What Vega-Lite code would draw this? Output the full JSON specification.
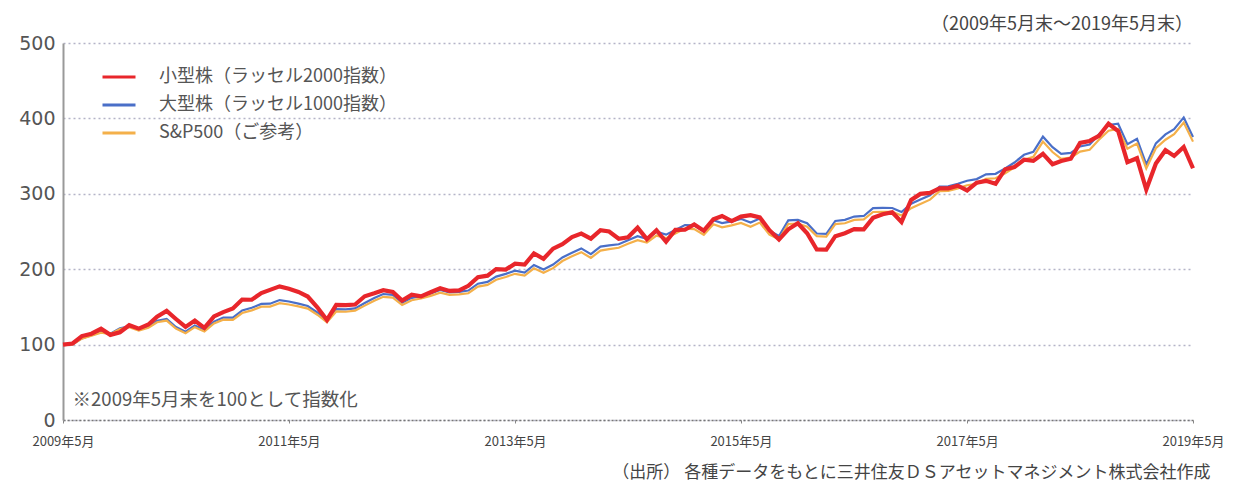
{
  "$schema": "https://vega.github.io/schema/vega-lite/v6.json",
  "width": 1130,
  "height": 377,
  "autosize": {"type": "none"},
  "padding": {"left": 63, "top": 43, "right": 46, "bottom": 66},
  "background": "white",
  "config": {"view": {"stroke": null}, "font": "Noto Sans CJK JP"},
  "title": {"text": "（2009年5月末～2019年5月末）", "anchor": "end", "frame": "group", "orient": "top", "fontSize": 18, "fontWeight": "normal", "color": "#444", "font": "Noto Sans CJK JP", "offset": 0},
  "data": {
    "values": [
      {"d": "2009-05", "r2000": 100, "r1000": 100, "sp500": 100},
      {"d": "2009-06", "r2000": 101.5, "r1000": 100.3, "sp500": 100.2},
      {"d": "2009-07", "r2000": 111.3, "r1000": 108.3, "sp500": 107.9},
      {"d": "2009-08", "r2000": 114.5, "r1000": 112.3, "sp500": 111.7},
      {"d": "2009-09", "r2000": 121.0, "r1000": 116.7, "sp500": 115.9},
      {"d": "2009-10", "r2000": 112.9, "r1000": 114.6, "sp500": 113.8},
      {"d": "2009-11", "r2000": 116.4, "r1000": 121.6, "sp500": 120.6},
      {"d": "2009-12", "r2000": 125.7, "r1000": 124.3, "sp500": 123.0},
      {"d": "2010-01", "r2000": 121.2, "r1000": 120.1, "sp500": 118.7},
      {"d": "2010-02", "r2000": 126.7, "r1000": 123.9, "sp500": 122.3},
      {"d": "2010-03", "r2000": 136.9, "r1000": 131.6, "sp500": 129.7},
      {"d": "2010-04", "r2000": 144.7, "r1000": 134.1, "sp500": 131.9},
      {"d": "2010-05", "r2000": 134.0, "r1000": 123.4, "sp500": 121.3},
      {"d": "2010-06", "r2000": 123.4, "r1000": 117.0, "sp500": 115.0},
      {"d": "2010-07", "r2000": 131.9, "r1000": 125.3, "sp500": 123.1},
      {"d": "2010-08", "r2000": 122.2, "r1000": 119.7, "sp500": 117.5},
      {"d": "2010-09", "r2000": 137.4, "r1000": 130.5, "sp500": 128.0},
      {"d": "2010-10", "r2000": 143.1, "r1000": 135.8, "sp500": 133.0},
      {"d": "2010-11", "r2000": 148.0, "r1000": 135.9, "sp500": 132.9},
      {"d": "2010-12", "r2000": 159.8, "r1000": 145.3, "sp500": 141.9},
      {"d": "2011-01", "r2000": 159.5, "r1000": 148.8, "sp500": 145.4},
      {"d": "2011-02", "r2000": 168.3, "r1000": 153.9, "sp500": 150.3},
      {"d": "2011-03", "r2000": 172.6, "r1000": 154.3, "sp500": 150.4},
      {"d": "2011-04", "r2000": 177.2, "r1000": 159.1, "sp500": 155.0},
      {"d": "2011-05", "r2000": 174.0, "r1000": 157.2, "sp500": 153.2},
      {"d": "2011-06", "r2000": 169.9, "r1000": 154.4, "sp500": 150.6},
      {"d": "2011-07", "r2000": 163.8, "r1000": 151.2, "sp500": 147.7},
      {"d": "2011-08", "r2000": 149.5, "r1000": 142.6, "sp500": 139.6},
      {"d": "2011-09", "r2000": 132.7, "r1000": 132.2, "sp500": 129.8},
      {"d": "2011-10", "r2000": 152.8, "r1000": 147.1, "sp500": 144.0},
      {"d": "2011-11", "r2000": 152.3, "r1000": 146.7, "sp500": 143.6},
      {"d": "2011-12", "r2000": 153.2, "r1000": 148.0, "sp500": 145.1},
      {"d": "2012-01", "r2000": 164.1, "r1000": 155.2, "sp500": 151.7},
      {"d": "2012-02", "r2000": 168.0, "r1000": 161.7, "sp500": 158.1},
      {"d": "2012-03", "r2000": 172.2, "r1000": 167.1, "sp500": 163.4},
      {"d": "2012-04", "r2000": 169.7, "r1000": 166.0, "sp500": 162.4},
      {"d": "2012-05", "r2000": 158.4, "r1000": 155.7, "sp500": 152.5},
      {"d": "2012-06", "r2000": 166.2, "r1000": 162.0, "sp500": 158.9},
      {"d": "2012-07", "r2000": 164.0, "r1000": 164.1, "sp500": 161.1},
      {"d": "2012-08", "r2000": 169.4, "r1000": 167.9, "sp500": 164.6},
      {"d": "2012-09", "r2000": 174.9, "r1000": 172.4, "sp500": 168.9},
      {"d": "2012-10", "r2000": 171.2, "r1000": 169.2, "sp500": 165.9},
      {"d": "2012-11", "r2000": 172.0, "r1000": 170.0, "sp500": 166.6},
      {"d": "2012-12", "r2000": 178.0, "r1000": 171.7, "sp500": 168.1},
      {"d": "2013-01", "r2000": 189.3, "r1000": 180.8, "sp500": 176.9},
      {"d": "2013-02", "r2000": 191.4, "r1000": 183.2, "sp500": 179.2},
      {"d": "2013-03", "r2000": 200.1, "r1000": 190.2, "sp500": 186.0},
      {"d": "2013-04", "r2000": 199.5, "r1000": 193.8, "sp500": 189.7},
      {"d": "2013-05", "r2000": 207.4, "r1000": 198.1, "sp500": 193.9},
      {"d": "2013-06", "r2000": 206.2, "r1000": 195.4, "sp500": 191.4},
      {"d": "2013-07", "r2000": 220.8, "r1000": 205.6, "sp500": 201.2},
      {"d": "2013-08", "r2000": 213.8, "r1000": 199.5, "sp500": 195.2},
      {"d": "2013-09", "r2000": 227.3, "r1000": 206.1, "sp500": 201.4},
      {"d": "2013-10", "r2000": 233.2, "r1000": 215.6, "sp500": 210.8},
      {"d": "2013-11", "r2000": 242.5, "r1000": 221.8, "sp500": 217.1},
      {"d": "2013-12", "r2000": 247.2, "r1000": 227.6, "sp500": 222.6},
      {"d": "2014-01", "r2000": 240.5, "r1000": 220.0, "sp500": 215.0},
      {"d": "2014-02", "r2000": 251.8, "r1000": 230.0, "sp500": 224.7},
      {"d": "2014-03", "r2000": 250.0, "r1000": 231.7, "sp500": 226.6},
      {"d": "2014-04", "r2000": 240.4, "r1000": 233.1, "sp500": 228.4},
      {"d": "2014-05", "r2000": 242.3, "r1000": 238.4, "sp500": 233.7},
      {"d": "2014-06", "r2000": 255.1, "r1000": 243.7, "sp500": 238.5},
      {"d": "2014-07", "r2000": 239.8, "r1000": 240.2, "sp500": 235.4},
      {"d": "2014-08", "r2000": 251.7, "r1000": 249.6, "sp500": 244.6},
      {"d": "2014-09", "r2000": 236.4, "r1000": 245.8, "sp500": 241.2},
      {"d": "2014-10", "r2000": 252.1, "r1000": 252.1, "sp500": 247.3},
      {"d": "2014-11", "r2000": 252.3, "r1000": 258.6, "sp500": 253.8},
      {"d": "2014-12", "r2000": 259.3, "r1000": 258.1, "sp500": 253.1},
      {"d": "2015-01", "r2000": 251.1, "r1000": 250.5, "sp500": 245.7},
      {"d": "2015-02", "r2000": 266.1, "r1000": 265.0, "sp500": 259.6},
      {"d": "2015-03", "r2000": 270.6, "r1000": 261.2, "sp500": 255.5},
      {"d": "2015-04", "r2000": 263.8, "r1000": 263.4, "sp500": 258.2},
      {"d": "2015-05", "r2000": 269.8, "r1000": 266.8, "sp500": 261.3},
      {"d": "2015-06", "r2000": 271.7, "r1000": 261.8, "sp500": 256.3},
      {"d": "2015-07", "r2000": 268.7, "r1000": 267.1, "sp500": 261.8},
      {"d": "2015-08", "r2000": 251.8, "r1000": 250.9, "sp500": 245.8},
      {"d": "2015-09", "r2000": 239.3, "r1000": 244.1, "sp500": 239.7},
      {"d": "2015-10", "r2000": 252.9, "r1000": 264.7, "sp500": 260.0},
      {"d": "2015-11", "r2000": 261.0, "r1000": 265.4, "sp500": 260.6},
      {"d": "2015-12", "r2000": 247.7, "r1000": 260.9, "sp500": 256.5},
      {"d": "2016-01", "r2000": 226.1, "r1000": 247.3, "sp500": 243.9},
      {"d": "2016-02", "r2000": 226.0, "r1000": 246.8, "sp500": 243.3},
      {"d": "2016-03", "r2000": 243.8, "r1000": 264.0, "sp500": 259.8},
      {"d": "2016-04", "r2000": 247.7, "r1000": 265.4, "sp500": 260.9},
      {"d": "2016-05", "r2000": 253.2, "r1000": 269.8, "sp500": 265.3},
      {"d": "2016-06", "r2000": 252.9, "r1000": 270.6, "sp500": 266.0},
      {"d": "2016-07", "r2000": 268.1, "r1000": 281.0, "sp500": 275.9},
      {"d": "2016-08", "r2000": 272.8, "r1000": 281.3, "sp500": 276.1},
      {"d": "2016-09", "r2000": 275.6, "r1000": 281.2, "sp500": 276.2},
      {"d": "2016-10", "r2000": 262.7, "r1000": 275.9, "sp500": 271.3},
      {"d": "2016-11", "r2000": 291.9, "r1000": 286.9, "sp500": 281.0},
      {"d": "2016-12", "r2000": 299.9, "r1000": 292.4, "sp500": 286.6},
      {"d": "2017-01", "r2000": 301.2, "r1000": 298.1, "sp500": 292.2},
      {"d": "2017-02", "r2000": 307.1, "r1000": 309.6, "sp500": 303.6},
      {"d": "2017-03", "r2000": 307.2, "r1000": 310.0, "sp500": 304.0},
      {"d": "2017-04", "r2000": 310.8, "r1000": 313.3, "sp500": 307.2},
      {"d": "2017-05", "r2000": 304.4, "r1000": 317.3, "sp500": 311.3},
      {"d": "2017-06", "r2000": 314.7, "r1000": 319.5, "sp500": 313.3},
      {"d": "2017-07", "r2000": 317.2, "r1000": 325.8, "sp500": 319.9},
      {"d": "2017-08", "r2000": 313.2, "r1000": 326.5, "sp500": 320.6},
      {"d": "2017-09", "r2000": 332.6, "r1000": 333.7, "sp500": 327.3},
      {"d": "2017-10", "r2000": 335.6, "r1000": 341.5, "sp500": 335.1},
      {"d": "2017-11", "r2000": 345.2, "r1000": 351.7, "sp500": 345.1},
      {"d": "2017-12", "r2000": 343.6, "r1000": 355.7, "sp500": 349.0},
      {"d": "2018-01", "r2000": 352.9, "r1000": 375.8, "sp500": 369.2},
      {"d": "2018-02", "r2000": 339.2, "r1000": 361.8, "sp500": 355.4},
      {"d": "2018-03", "r2000": 343.4, "r1000": 352.9, "sp500": 346.4},
      {"d": "2018-04", "r2000": 346.5, "r1000": 354.2, "sp500": 347.9},
      {"d": "2018-05", "r2000": 367.5, "r1000": 362.8, "sp500": 356.0},
      {"d": "2018-06", "r2000": 370.1, "r1000": 365.3, "sp500": 358.3},
      {"d": "2018-07", "r2000": 376.7, "r1000": 378.8, "sp500": 371.8},
      {"d": "2018-08", "r2000": 392.9, "r1000": 391.3, "sp500": 383.7},
      {"d": "2018-09", "r2000": 383.3, "r1000": 393.0, "sp500": 385.9},
      {"d": "2018-10", "r2000": 341.9, "r1000": 365.9, "sp500": 359.7},
      {"d": "2018-11", "r2000": 347.2, "r1000": 373.0, "sp500": 366.7},
      {"d": "2018-12", "r2000": 305.7, "r1000": 339.0, "sp500": 333.6},
      {"d": "2019-01", "r2000": 340.2, "r1000": 366.9, "sp500": 360.4},
      {"d": "2019-02", "r2000": 357.8, "r1000": 378.8, "sp500": 371.7},
      {"d": "2019-03", "r2000": 350.2, "r1000": 385.8, "sp500": 379.0},
      {"d": "2019-04", "r2000": 362.1, "r1000": 401.3, "sp500": 394.5},
      {"d": "2019-05", "r2000": 333.9, "r1000": 375.3, "sp500": 369.2}
    ],
    "format": {"parse": {"d": "utc:'%Y-%m'"}}
  },
  "layer": [
    {
      "transform": [
        {"fold": ["r2000", "r1000", "sp500"], "as": ["series", "value"]},
        {"filter": "datum.series != 'r2000'"}
      ],
      "mark": {"type": "line", "strokeWidth": 2.2},
      "encoding": {
        "x": {
          "field": "d", "type": "temporal",
          "scale": {"type": "utc", "domain": [{"year": 2009, "month": 5, "date": 1, "utc": true}, {"year": 2019, "month": 5, "date": 1, "utc": true}]},
          "axis": {
            "values": [
              {"year": 2009, "month": 5, "date": 1, "utc": true},
              {"year": 2011, "month": 5, "date": 1, "utc": true},
              {"year": 2013, "month": 5, "date": 1, "utc": true},
              {"year": 2015, "month": 5, "date": 1, "utc": true},
              {"year": 2017, "month": 5, "date": 1, "utc": true},
              {"year": 2019, "month": 5, "date": 1, "utc": true}
            ],
            "format": "%Y年%-m月",
            "title": "（出所） 各種データをもとに三井住友ＤＳアセットマネジメント株式会社作成",
            "titleAlign": "right", "titleX": 1147, "titleY": 52, "titleBaseline": "middle",
            "titleFontSize": 17, "titleFontWeight": "normal", "titleColor": "#444", "titleFont": "Noto Sans CJK JP",
            "labelFontSize": 13, "labelColor": "#444", "labelFont": "Noto Sans CJK JP", "labelFlush": false,
            "labelPadding": 12, "tickSize": 3, "tickColor": "#888",
            "domainColor": "#777", "domainDash": [2, 2], "domainWidth": 1.5, "grid": false
          }
        },
        "y": {
          "field": "value", "type": "quantitative",
          "scale": {"domain": [0, 500]},
          "axis": {
            "values": [0, 100, 200, 300, 400, 500], "title": null,
            "grid": true, "gridDash": [2, 3], "gridColor": "#b4b4c8", "gridWidth": 1.5,
            "domainColor": "#999", "domainWidth": 2, "ticks": false,
            "labelPadding": 8, "labelFontSize": 19, "labelColor": "#555", "labelFont": "DejaVu Sans"
          }
        },
        "color": {
          "field": "series", "type": "nominal",
          "scale": {"domain": ["r2000", "r1000", "sp500"], "range": ["#e8262b", "#4a6fc8", "#f4b04a"]},
          "legend": {
            "orient": "none", "legendX": 38, "legendY": 16, "title": null,
            "labelExpr": "datum.label == 'r2000' ? '小型株（ラッセル2000指数）' : datum.label == 'r1000' ? '大型株（ラッセル1000指数）' : 'S&P500（ご参考）'",
            "labelFontSize": 18, "labelColor": "#555", "labelFont": "Noto Sans CJK JP", "labelLimit": 400,
            "symbolType": "stroke", "symbolSize": 1089, "symbolStrokeWidth": 3,
            "labelOffset": 22, "rowPadding": 1
          }
        }
      }
    },
    {
      "transform": [
        {"fold": ["r2000", "r1000", "sp500"], "as": ["series", "value"]},
        {"filter": "datum.series == 'r2000'"}
      ],
      "mark": {"type": "line", "strokeWidth": 4.2},
      "encoding": {
        "x": {"field": "d", "type": "temporal"},
        "y": {"field": "value", "type": "quantitative"},
        "color": {"field": "series", "type": "nominal"}
      }
    },
    {
      "data": {"values": [{"d": "2009-06", "v": 26, "t": "※2009年5月末を100として指数化"}], "format": {"parse": {"d": "utc:'%Y-%m'"}}},
      "mark": {"type": "text", "align": "left", "baseline": "middle", "fontSize": 18.5, "color": "#555", "font": "Noto Sans CJK JP"},
      "encoding": {
        "x": {"field": "d", "type": "temporal"},
        "y": {"field": "v", "type": "quantitative"},
        "text": {"field": "t"}
      }
    }
  ]
}
